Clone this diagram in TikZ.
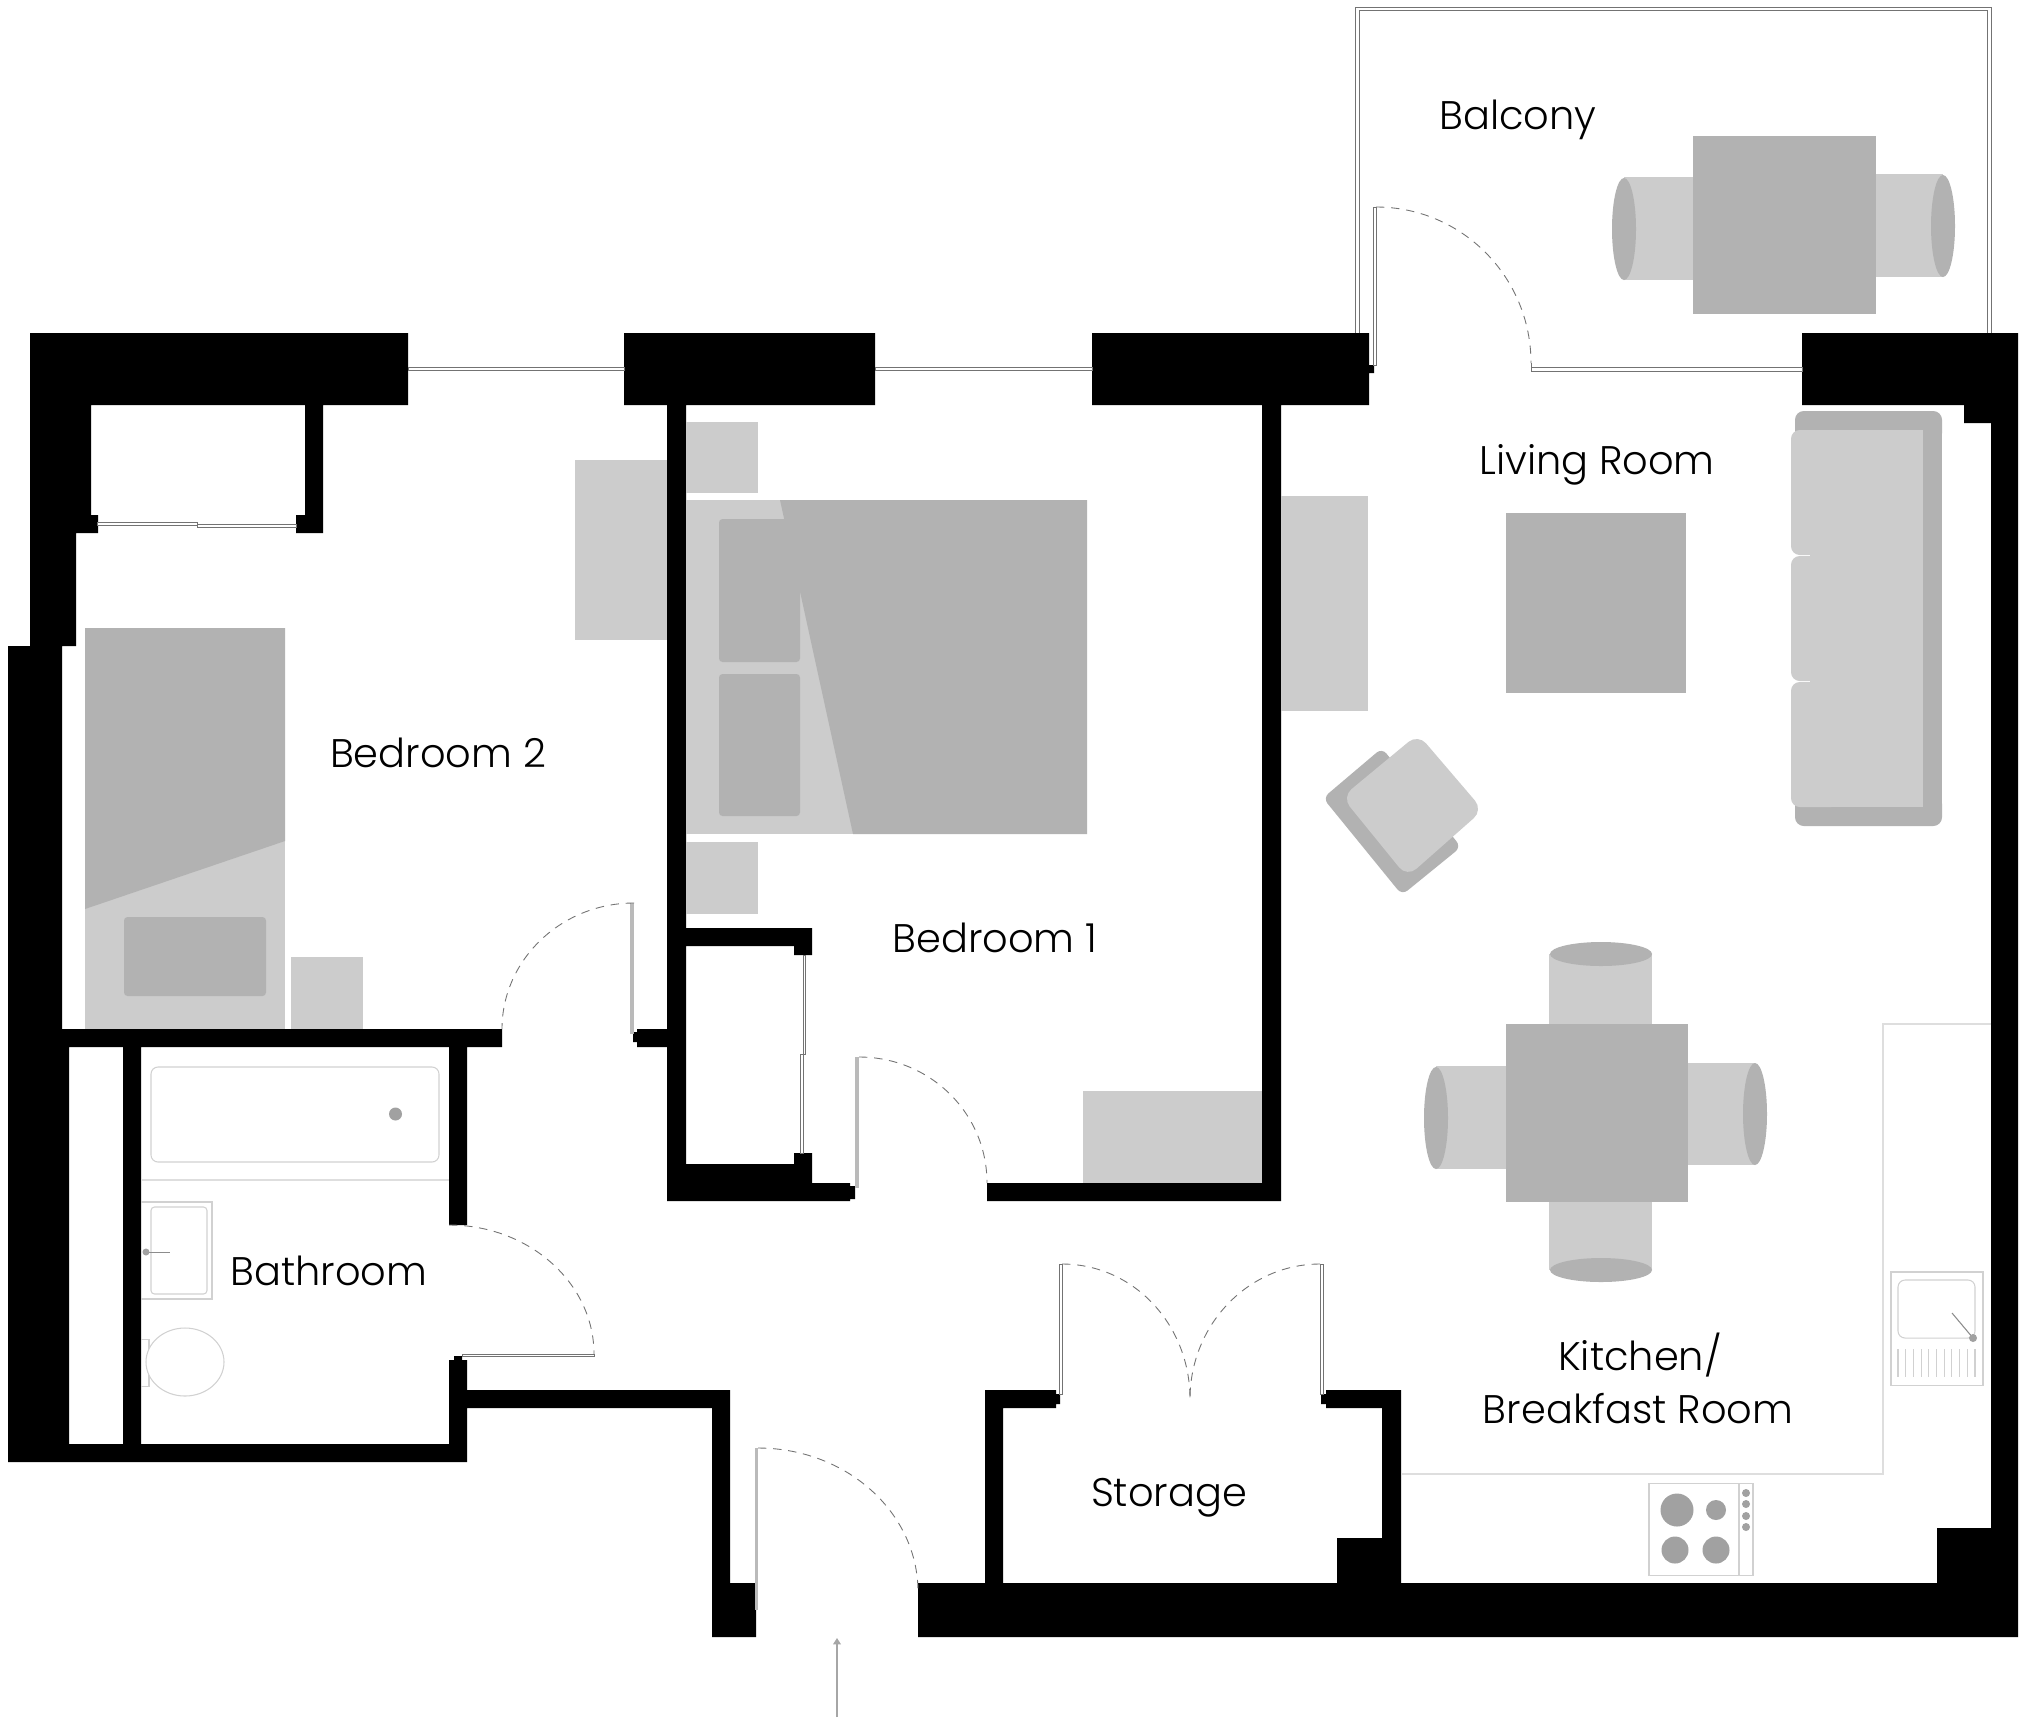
\documentclass[tikz,border=0pt]{standalone}
\usepackage{fontspec}
\setmainfont{Poppins Light}
\usetikzlibrary{arrows.meta}

\begin{document}
\begin{tikzpicture} [x=0.01cm,y=-0.01cm,
  wall/.style={fill=black},
  light/.style={fill=black!20},
  dark/.style={fill=black!30},
  pane/.style={draw=black!55,line width=0.25pt,fill=white},
  leaf/.style={fill=black!27},
  swing/.style={draw=black!55,line width=0.25pt,dash pattern=on 2.4pt off 1.9pt},
  fitting/.style={draw=black!18,line width=0.3pt},
  counter/.style={draw=black!13,line width=0.5pt},
  dot/.style={fill=black!37},
  room/.style={font=\fontsize{11.35}{15}\selectfont,text=black,inner sep=0pt,anchor=base}]

  \useasboundingbox (0,0) rectangle (2024,1720);
  \fill[white] (0,0) rectangle (2024,1720);

  % walls
  \fill[wall]
    (30,333) rectangle (408,405)
    (30,405) rectangle (91,515)
    (30,515) rectangle (76,646)
    (76,515) rectangle (98,533)
    (305,405) rectangle (323,533)
    (296,515) rectangle (305,533)
    (8,646) rectangle (62,1029)
    (8,1029) rectangle (69,1462)
    (62,1029) rectangle (502,1047)
    (8,1444) rectangle (467,1462)
    (123,1047) rectangle (141,1444)
    (449,1047) rectangle (467,1225)
    (449,1360) rectangle (467,1444)
    (454,1356) rectangle (462,1360)
    (467,1390) rectangle (730,1408)
    (712,1408) rectangle (730,1583)
    (712,1583) rectangle (756,1637)
    (624,333) rectangle (875,405)
    (1092,333) rectangle (1369,405)
    (1369,365) rectangle (1374,373)
    (1802,333) rectangle (2018,405)
    (1964,405) rectangle (2018,423)
    (1991,423) rectangle (2018,1637)
    (918,1583) rectangle (2018,1637)
    (1937,1528) rectangle (1991,1583)
    (667,405) rectangle (686,1201)
    (686,1183) rectangle (850,1201)
    (850,1186) rectangle (855,1199)
    (686,1164) rectangle (794,1183)
    (794,1153) rectangle (812,1183)
    (686,928) rectangle (812,946)
    (794,946) rectangle (812,955)
    (637,1029) rectangle (667,1047)
    (633,1032) rectangle (637,1042)
    (987,1183) rectangle (1281,1201)
    (1262,405) rectangle (1281,1183)
    (985,1390) rectangle (1003,1583)
    (1003,1390) rectangle (1056,1408)
    (1056,1394) rectangle (1060,1404)
    (1321,1394) rectangle (1326,1404)
    (1326,1390) rectangle (1401,1408)
    (1382,1408) rectangle (1401,1583)
    (1337,1538) rectangle (1382,1583);

  % windows and balcony rail
  \path[pane] (408,367) rectangle (624,370);
  \path[pane] (875,367) rectangle (1092,370);
  \path[pane] (1531,367) rectangle (1802,371);
  \draw[pane,fill=none] (1355,333) -- (1355,7) -- (1991,7) -- (1991,333);
  \draw[pane,fill=none] (1359,333) -- (1359,10) -- (1987,10) -- (1987,333);

  % sliding doors
  \path[pane] (97,522) rectangle (197,525);
  \path[pane] (197,524) rectangle (296,527);
  \path[pane] (803,955) rectangle (805,1054);
  \path[pane] (800,1054) rectangle (803,1153);

  % door leaves
  \fill[leaf] (630,903) rectangle (634,1034);
  \fill[leaf] (855,1057) rectangle (859,1188);
  \fill[leaf] (755,1448) rectangle (758,1610);
  \path[pane] (1059,1264) rectangle (1062,1394);
  \path[pane] (1320,1264) rectangle (1323,1394);
  \path[pane] (1373,207) rectangle (1376,365);
  \path[pane] (462,1354) rectangle (594,1356);
  \draw[pane,fill=none] (1531,363) -- (1531,367);

  % door swings
  \draw[swing] (634,903) .. controls (561,903) and (502,960) .. (502,1029);
  \draw[swing] (859,1057) .. controls (930,1057) and (987,1113) .. (987,1183);
  \draw[swing] (758,1448) .. controls (846,1448) and (918,1512) .. (918,1592);
  \draw[swing] (1062,1264) .. controls (1134,1264) and (1190,1325) .. (1190,1399);
  \draw[swing] (1320,1264) .. controls (1248,1264) and (1190,1325) .. (1190,1399);
  \draw[swing] (1376,207) .. controls (1462,207) and (1531,277) .. (1531,363);
  \draw[swing] (449,1225) .. controls (529,1225) and (594,1283) .. (594,1354);

  % entrance arrow
  \draw[draw=black!35,line width=0.3pt,-{Triangle[length=1.8pt,width=2.2pt]}]
    (837,1717) -- (837,1638);

  % bedroom 2
  \fill[light] (575,460) rectangle (667,640);
  \fill[light] (85,628) rectangle (285,1029);
  \fill[dark] (85,628) -- (285,628) -- (285,841) -- (85,909) -- cycle;
  \fill[dark,rounded corners=1pt] (124,917) rectangle (266,996);
  \fill[light] (291,957) rectangle (363,1029);

  % bedroom 1
  \fill[light] (686,422) rectangle (758,493);
  \fill[light] (686,500) rectangle (1087,834);
  \fill[dark] (780,500) -- (1087,500) -- (1087,834) -- (853,834) -- cycle;
  \fill[dark,rounded corners=1pt] (719,519) rectangle (800,662);
  \fill[dark,rounded corners=1pt] (719,674) rectangle (800,816);
  \fill[light] (686,842) rectangle (758,914);
  \fill[light] (1083,1091) rectangle (1262,1183);

  % living room
  \fill[light] (1281,496) rectangle (1368,711);
  \fill[dark] (1506,513) rectangle (1686,693);
  \fill[dark,rounded corners=2.5pt] (1795,411) rectangle (1942,442);
  \fill[dark,rounded corners=2.5pt] (1795,795) rectangle (1942,826);
  \fill[dark] (1915,420) rectangle (1942,815);
  \fill[light,rounded corners=2.5pt] (1791,430) rectangle (1840,555);
  \fill[light,rounded corners=2.5pt] (1791,556) rectangle (1840,681);
  \fill[light,rounded corners=2.5pt] (1791,682) rectangle (1840,807);
  \fill[light] (1810,430) rectangle (1923,807);
  \fill[dark,rounded corners=2pt] (1382,748) -- (1323,798) -- (1402,895) -- (1461,847) -- cycle;
  \fill[light,rounded corners=3.5pt] (1418,734) -- (1483,810) -- (1407,877) -- (1342,797) -- cycle;

  % balcony table
  \fill[light] (1624,177) rectangle (1693,280);
  \fill[dark] (1624,229) ellipse [x radius=12,y radius=51];
  \fill[light] (1876,174) rectangle (1943,277);
  \fill[dark] (1943,226) ellipse [x radius=12,y radius=51];
  \fill[dark] (1693,136) rectangle (1876,314);

  % dining table
  \fill[light] (1436,1066) rectangle (1506,1169);
  \fill[dark] (1436,1118) ellipse [x radius=12,y radius=51];
  \fill[light] (1688,1063) rectangle (1755,1165);
  \fill[dark] (1755,1114) ellipse [x radius=12,y radius=51];
  \fill[light] (1549,954) rectangle (1652,1024);
  \fill[dark] (1601,954) ellipse [x radius=51,y radius=12];
  \fill[light] (1549,1202) rectangle (1652,1270);
  \fill[dark] (1601,1270) ellipse [x radius=51,y radius=12];
  \fill[dark] (1506,1024) rectangle (1688,1202);

  % kitchen
  \draw[counter] (1991,1024) -- (1883,1024) -- (1883,1474) -- (1401,1474);
  \draw[fitting] (1891,1272) rectangle (1983,1385);
  \draw[fitting,rounded corners=2pt] (1898,1280) rectangle (1975,1338);
  \foreach \ribx in {1898,1905.7,...,1976}
    \draw[fitting] (\ribx,1349) -- (\ribx,1377);
  \draw[draw=black!45,line width=0.3pt] (1973,1338) -- (1952,1313);
  \fill[dot] (1973,1338) circle [radius=4];
  \draw[fitting] (1649,1483) rectangle (1753,1575);
  \draw[fitting] (1739,1483) -- (1739,1575);
  \fill[dot] (1677,1510) circle [radius=16.5];
  \fill[dot] (1716,1510) circle [radius=10];
  \fill[dot] (1675,1550) circle [radius=13.5];
  \fill[dot] (1716,1550) circle [radius=13.5];
  \foreach \knoby in {1493,1504,1516,1527}
    \fill[dot] (1746,\knoby) circle [radius=4];

  % bathroom
  \draw[fitting,rounded corners=2pt] (151,1067) rectangle (439,1162);
  \fill[dot] (395.5,1114) circle [radius=6.5];
  \draw[counter,line width=0.3pt] (141,1180) -- (449,1180);
  \draw[fitting] (141,1202) -- (212,1202) -- (212,1299) -- (141,1299);
  \draw[fitting,rounded corners=1pt] (151,1207) rectangle (207,1294);
  \draw[draw=black!45,line width=0.25pt] (146,1252) -- (170,1252);
  \fill[dot] (146,1252) circle [radius=3.5];
  \draw[fitting] (141,1339) -- (149,1339) -- (149,1386) -- (141,1386);
  \draw[fitting,fill=white] (185,1362) ellipse [x radius=39,y radius=34];

  % labels
  \node[room] (balcony) at (1518,129) {Balcony};
  \node[room] (living) at (1597,474) {Living Room};
  \node[room] (bedtwo) at (438,767) {Bedroom 2};
  \node[room] (bedone) at (995,952) {Bedroom 1};
  \node[room] (bathroom) at (329,1285) {Bathroom};
  \node[room] (storage) at (1169,1506) {Storage};
  \node[room] (kitchen) at (1640,1370) {Kitchen/};
  \node[room] (breakfast) at (1638,1423) {Breakfast Room};

\end{tikzpicture}
\end{document}
